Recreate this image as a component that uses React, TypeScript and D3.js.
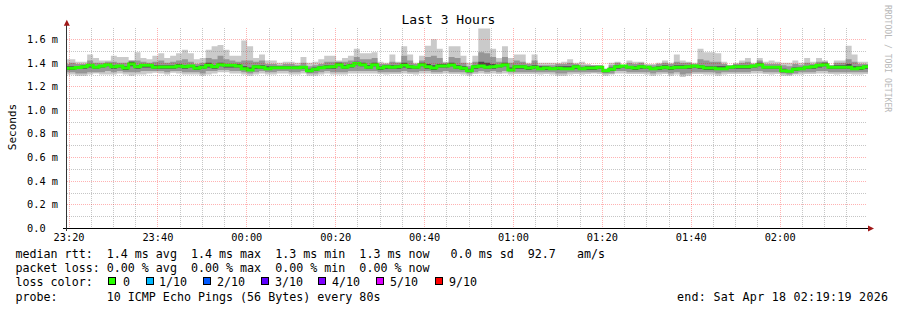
import React from 'react';
import * as d3 from 'd3';

// ---------------- data (values in milliseconds, shown with "m" suffix) ----------------
const pingMin = [
  1.30,1.30,1.29,1.29,1.30,1.31,1.30,1.30,1.30,1.31,
  1.30,1.29,1.30,1.30,1.31,1.315,1.31,1.30,1.315,1.31,
  1.30,1.30,1.30,1.29,1.30,1.31,1.32,1.32,1.31,1.31,
  1.30,1.29,1.30,1.31,1.30,1.30,1.31,1.31,1.30,1.30,
  1.31,1.29,1.29,1.30,1.31,1.30,1.30,1.30,1.31,1.31,
  1.31,1.31,1.31,1.305,1.30,1.305,1.305,1.31,1.305,1.30,
  1.31,1.31,1.305,1.305,1.31,1.305,1.305,1.30,1.29,1.305,
  1.31,1.305,1.31,1.305,1.31,1.30,1.305,1.305,1.305,1.305,
  1.30,1.305,1.30,1.29,1.29,1.30,1.305,1.30,1.305,1.31,
  1.305,1.29,1.30,1.31,1.31,1.305,1.305,1.305,1.30,1.29,
  1.30,1.305,1.29,1.30,1.28,1.29,1.305,1.305,1.30,1.30,
  1.29,1.30,1.305,1.305,1.305,1.305,1.31,1.31,1.305,1.30,
  1.305,1.29,1.29,1.30,1.30,1.305,1.305,1.31,1.31,1.305,
  1.30,1.305,1.305,1.30,1.30,1.305,
];
const ping2 = [
  1.32,1.32,1.31,1.31,1.32,1.32,1.32,1.33,1.32,1.33,
  1.32,1.32,1.32,1.33,1.33,1.33,1.33,1.32,1.33,1.33,
  1.32,1.32,1.32,1.31,1.33,1.33,1.34,1.34,1.33,1.33,
  1.32,1.31,1.32,1.33,1.32,1.32,1.33,1.33,1.32,1.32,
  1.33,1.31,1.31,1.32,1.33,1.32,1.32,1.32,1.33,1.33,
  1.33,1.33,1.33,1.32,1.32,1.32,1.32,1.33,1.32,1.32,
  1.33,1.33,1.32,1.32,1.33,1.32,1.32,1.32,1.31,1.32,
  1.33,1.32,1.33,1.32,1.33,1.32,1.32,1.32,1.32,1.32,
  1.32,1.32,1.32,1.31,1.31,1.32,1.32,1.32,1.32,1.32,
  1.32,1.31,1.31,1.33,1.33,1.32,1.32,1.32,1.32,1.31,
  1.32,1.32,1.31,1.32,1.30,1.31,1.32,1.32,1.32,1.32,
  1.31,1.32,1.32,1.32,1.32,1.32,1.33,1.33,1.32,1.32,
  1.32,1.31,1.30,1.31,1.32,1.32,1.32,1.33,1.33,1.32,
  1.32,1.32,1.32,1.32,1.32,1.32,
];
const ping4 = [
  1.34,1.34,1.35,1.35,1.36,1.35,1.36,1.37,1.35,1.36,
  1.34,1.37,1.35,1.36,1.36,1.35,1.35,1.35,1.35,1.36,
  1.35,1.36,1.34,1.35,1.36,1.35,1.37,1.36,1.36,1.36,
  1.34,1.33,1.35,1.35,1.34,1.35,1.35,1.35,1.35,1.35,
  1.35,1.32,1.33,1.35,1.35,1.35,1.37,1.35,1.36,1.38,
  1.37,1.35,1.37,1.34,1.35,1.35,1.35,1.36,1.35,1.35,
  1.37,1.35,1.34,1.36,1.36,1.37,1.35,1.34,1.32,1.35,
  1.36,1.35,1.35,1.36,1.37,1.33,1.35,1.35,1.34,1.35,
  1.34,1.34,1.34,1.34,1.34,1.34,1.35,1.34,1.34,1.34,
  1.35,1.32,1.33,1.35,1.36,1.35,1.34,1.35,1.35,1.34,
  1.34,1.35,1.34,1.35,1.35,1.35,1.36,1.35,1.34,1.34,
  1.34,1.34,1.35,1.35,1.35,1.35,1.36,1.37,1.35,1.35,
  1.35,1.32,1.32,1.33,1.34,1.35,1.35,1.36,1.37,1.35,
  1.35,1.35,1.35,1.34,1.34,1.35,
];
const median = [
  1.353,1.353,1.360,1.367,1.379,1.362,1.373,1.384,1.367,1.373,
  1.357,1.390,1.367,1.379,1.379,1.362,1.365,1.365,1.365,1.373,
  1.367,1.373,1.353,1.362,1.379,1.367,1.384,1.379,1.379,1.373,
  1.350,1.339,1.367,1.362,1.350,1.359,1.359,1.359,1.359,1.359,
  1.362,1.333,1.345,1.359,1.364,1.367,1.384,1.362,1.376,1.395,
  1.384,1.362,1.384,1.356,1.367,1.362,1.367,1.379,1.367,1.362,
  1.384,1.367,1.356,1.373,1.373,1.381,1.362,1.353,1.333,1.367,
  1.373,1.362,1.367,1.373,1.384,1.339,1.367,1.367,1.356,1.362,
  1.350,1.356,1.350,1.353,1.350,1.350,1.367,1.350,1.356,1.356,
  1.362,1.333,1.345,1.367,1.373,1.362,1.356,1.367,1.362,1.350,
  1.356,1.362,1.356,1.362,1.362,1.367,1.373,1.367,1.356,1.356,
  1.350,1.350,1.362,1.367,1.367,1.367,1.373,1.384,1.362,1.362,
  1.362,1.333,1.328,1.345,1.350,1.362,1.367,1.379,1.384,1.362,
  1.362,1.362,1.362,1.350,1.356,1.367,
];
const ping7 = [
  1.37,1.37,1.37,1.38,1.39,1.37,1.38,1.39,1.38,1.38,
  1.37,1.41,1.38,1.39,1.39,1.38,1.38,1.38,1.38,1.39,
  1.38,1.38,1.37,1.38,1.40,1.38,1.40,1.39,1.39,1.39,
  1.37,1.36,1.38,1.38,1.37,1.37,1.37,1.37,1.37,1.37,
  1.37,1.35,1.36,1.37,1.38,1.38,1.40,1.38,1.39,1.41,
  1.40,1.38,1.40,1.37,1.38,1.38,1.38,1.40,1.38,1.37,
  1.40,1.39,1.38,1.39,1.39,1.40,1.38,1.37,1.35,1.38,
  1.41,1.40,1.39,1.38,1.40,1.36,1.38,1.38,1.37,1.38,
  1.37,1.37,1.36,1.37,1.37,1.37,1.38,1.36,1.37,1.37,
  1.37,1.34,1.36,1.38,1.38,1.37,1.37,1.38,1.37,1.36,
  1.37,1.38,1.37,1.38,1.38,1.38,1.38,1.38,1.37,1.37,
  1.37,1.37,1.37,1.38,1.38,1.38,1.38,1.40,1.37,1.37,
  1.37,1.35,1.34,1.36,1.36,1.37,1.38,1.39,1.40,1.37,
  1.38,1.38,1.39,1.37,1.37,1.38,
];
const ping9 = [
  1.39,1.40,1.39,1.39,1.42,1.40,1.40,1.41,1.41,1.40,
  1.40,1.42,1.42,1.41,1.40,1.41,1.42,1.40,1.41,1.42,
  1.43,1.41,1.39,1.40,1.44,1.43,1.46,1.43,1.42,1.41,
  1.42,1.42,1.41,1.42,1.39,1.39,1.38,1.39,1.39,1.38,
  1.40,1.37,1.38,1.39,1.41,1.41,1.41,1.41,1.42,1.45,
  1.43,1.43,1.44,1.39,1.39,1.41,1.40,1.46,1.42,1.39,
  1.42,1.45,1.46,1.44,1.40,1.45,1.44,1.40,1.37,1.41,
  1.49,1.48,1.45,1.41,1.45,1.40,1.42,1.41,1.39,1.42,
  1.38,1.38,1.38,1.39,1.39,1.40,1.39,1.38,1.38,1.38,
  1.38,1.35,1.38,1.40,1.38,1.40,1.39,1.40,1.38,1.38,
  1.39,1.40,1.39,1.41,1.40,1.40,1.39,1.43,1.42,1.41,
  1.41,1.39,1.38,1.39,1.40,1.41,1.39,1.42,1.39,1.39,
  1.39,1.38,1.37,1.39,1.38,1.40,1.39,1.41,1.41,1.38,
  1.40,1.40,1.43,1.41,1.39,1.39,
];
const pingMax = [
  1.43,1.43,1.41,1.41,1.47,1.44,1.42,1.42,1.46,1.45,
  1.45,1.42,1.49,1.44,1.43,1.46,1.48,1.44,1.46,1.48,
  1.51,1.48,1.43,1.44,1.51,1.54,1.55,1.51,1.46,1.46,
  1.59,1.54,1.44,1.47,1.42,1.42,1.40,1.41,1.41,1.40,
  1.45,1.40,1.41,1.43,1.46,1.46,1.42,1.44,1.46,1.52,
  1.48,1.48,1.49,1.41,1.40,1.47,1.41,1.54,1.47,1.40,
  1.46,1.545,1.60,1.52,1.41,1.54,1.54,1.46,1.40,1.46,
  1.69,1.69,1.52,1.44,1.54,1.44,1.47,1.47,1.40,1.47,
  1.40,1.40,1.40,1.40,1.41,1.43,1.40,1.41,1.39,1.38,
  1.38,1.35,1.40,1.41,1.38,1.42,1.41,1.41,1.39,1.39,
  1.40,1.42,1.40,1.47,1.42,1.41,1.40,1.52,1.49,1.49,
  1.48,1.41,1.38,1.40,1.42,1.44,1.40,1.44,1.41,1.42,
  1.41,1.40,1.40,1.42,1.40,1.44,1.41,1.44,1.42,1.38,
  1.42,1.42,1.545,1.47,1.41,1.41,
];

const yTickValues = [0, 0.2, 0.4, 0.6, 0.8, 1.0, 1.2, 1.4, 1.6];
const yTickLabels = ['0.0', '0.2 m', '0.4 m', '0.6 m', '0.8 m', '1.0 m', '1.2 m', '1.4 m', '1.6 m'];

const lossLabels = ['0', '1/10', '2/10', '3/10', '4/10', '5/10', '9/10'];
const lossColors = ['#26ff00', '#00b8ff', '#0059ff', '#5e00ff', '#7e00ff', '#dd00ff', '#ff0000'];

const titleText = 'Last 3 Hours';
const legendRtt = 'median rtt:  1.4 ms avg  1.4 ms max  1.3 ms min  1.3 ms now   0.0 ms sd  92.7   am/s';
const legendLoss = 'packet loss: 0.00 % avg  0.00 % max  0.00 % min  0.00 % now';
const legendProbe = 'probe:       10 ICMP Echo Pings (56 Bytes) every 80s';
const legendEnd = 'end: Sat Apr 18 02:19:19 2026';

// ---------------- layout ----------------
const W = 897;
const H = 310;
const PL = 66, PR = 866, PT = 28, PB = 228;
const MONO = "'DejaVu Sans Mono', monospace";

const END = new Date(2026, 3, 18, 2, 19, 19);
const START = new Date(END.getTime() - 3 * 3600 * 1000);
const STEP_S = 80;
const FIRST_OFFSET_S = -34;

type Pt = { t: Date; lo: number; hi: number };

export default function App() {
  const x = d3.scaleTime().domain([START, END]).range([PL, PR]);
  const y = d3.scaleLinear().domain([0, 1.695]).range([PB, PT]);

  const n = median.length;
  const times = d3.range(n + 1).map(
    (j) => new Date(START.getTime() + (FIRST_OFFSET_S + STEP_S * j) * 1000)
  );
  const bandPts = (lo: number[], hi: number[]): Pt[] =>
    times.map((t, j) => ({ t, lo: lo[Math.min(j, n - 1)], hi: hi[Math.min(j, n - 1)] }));

  const area = d3
    .area<Pt>()
    .x((d) => x(d.t))
    .y0((d) => y(d.lo))
    .y1((d) => y(d.hi))
    .curve(d3.curveStepAfter);

  const medPts = times.map((t, j) => ({ t, v: median[Math.min(j, n - 1)] }));
  const line = d3
    .line<{ t: Date; v: number }>()
    .x((d) => x(d.t))
    .y((d) => y(d.v))
    .curve(d3.curveStepAfter);

  const bands = [
    { lo: pingMin, hi: pingMax, color: '#cacaca' },
    { lo: ping2, hi: ping9, color: '#969696' },
    { lo: ping4, hi: ping7, color: '#4a4a4a' },
  ];

  // grid
  const allMinor = d3.timeMinute.every(5)!.range(START, END);
  const minsOfDay = (d: Date) => d.getHours() * 60 + d.getMinutes();
  const majorTimes = allMinor.filter((d) => minsOfDay(d) % 20 === 0);
  const minorTimes = allMinor.filter((d) => minsOfDay(d) % 20 !== 0);
  const minorVals = d3.range(1, 17).filter((k) => k % 2 === 1).map((k) => k / 10);
  const fmt = d3.timeFormat('%H:%M');

  const crispX = (v: number) => Math.floor(v) + 0.5;
  const crispY = (v: number) => Math.round(v) + 0.5;

  const boxX = [108, 146, 203, 261, 318, 376, 435];
  const labelX = [123, 159, 217, 275, 332, 390, 449];

  return (
    <svg
      width={W}
      height={H}
      style={{ position: 'absolute', left: 0, top: 0, display: 'block', background: '#ffffff' }}
      xmlns="http://www.w3.org/2000/svg"
    >
      <rect x={0} y={0} width={W} height={H} fill="#ffffff" />
      <defs>
        <clipPath id="plotClip">
          <rect x={PL + 1} y={PT} width={PR - PL + 1} height={PB - PT} />
        </clipPath>
      </defs>

      {/* smoke */}
      <g clipPath="url(#plotClip)">
        {bands.map((b, i) => (
          <path key={i} d={area(bandPts(b.lo, b.hi)) || ''} fill={b.color} />
        ))}
        <path d={line(medPts) || ''} fill="none" stroke="#26ff00" strokeWidth={3} />
      </g>

      {/* grid */}
      <g shapeRendering="crispEdges">
        {minorTimes.map((t, i) => (
          <line key={'vm' + i} x1={crispX(x(t))} x2={crispX(x(t))} y1={PT} y2={PB}
            stroke="rgba(128,128,128,0.45)" strokeDasharray="1 1" />
        ))}
        {minorVals.map((v, i) => (
          <line key={'hm' + i} x1={PL + 1} x2={PR + 1} y1={crispY(y(v))} y2={crispY(y(v))}
            stroke="rgba(128,128,128,0.45)" strokeDasharray="1 1" />
        ))}
        {majorTimes.map((t, i) => (
          <line key={'vM' + i} x1={crispX(x(t))} x2={crispX(x(t))} y1={PT} y2={PB}
            stroke="rgba(255,0,0,0.3)" strokeDasharray="1 1" />
        ))}
        {yTickValues.slice(1).map((v, i) => (
          <line key={'hM' + i} x1={PL + 1} x2={PR + 1} y1={crispY(y(v))} y2={crispY(y(v))}
            stroke="rgba(255,0,0,0.3)" strokeDasharray="1 1" />
        ))}
      </g>

      {/* axes */}
      <g shapeRendering="crispEdges">
        <line x1={63} x2={869} y1={228.5} y2={228.5} stroke="#000" />
        <line x1={66.5} x2={66.5} y1={231} y2={25} stroke="#333" />
      </g>
      <polygon points="63.8,25.8 69.8,25.8 66.8,19.8" fill="#a01818" />
      <polygon points="868,225.5 868,231.5 874,228.5" fill="#a01818" />

      {/* y labels */}
      {yTickValues.map((v, i) => (
        <text key={'yl' + i} x={27} y={y(v) + 3.7} fontFamily={MONO} fontSize={10.3} fill="#000"
          style={{ whiteSpace: 'pre' }}>
          {yTickLabels[i]}
        </text>
      ))}

      {/* x labels */}
      {majorTimes.map((t, i) => (
        <text key={'xl' + i} x={x(t)} y={241} textAnchor="middle" fontFamily={MONO} fontSize={10.3} fill="#000">
          {fmt(t)}
        </text>
      ))}

      {/* title */}
      <text x={448.5} y={24} textAnchor="middle" fontFamily={MONO} fontSize={13} fill="#000">
        {titleText}
      </text>

      {/* y axis title */}
      <text transform="translate(15.5,127) rotate(-90)" textAnchor="middle" fontFamily={MONO}
        fontSize={11} fill="#000">
        Seconds
      </text>

      {/* watermark */}
      <text transform="translate(884.5,5) rotate(90)" fontFamily={MONO} fontSize={8.1} fill="#b8b8b8"
        style={{ whiteSpace: 'pre' }}>
        RRDTOOL / TOBI OETIKER
      </text>

      {/* legend */}
      <g fontFamily={MONO} fontSize={11.66} fill="#000" style={{ whiteSpace: 'pre' }}>
        <text x={15.5} y={258} xmlSpace="preserve">{legendRtt}</text>
        <text x={15.5} y={272} xmlSpace="preserve">{legendLoss}</text>
        <text x={15.5} y={286} xmlSpace="preserve">loss color:</text>
        {lossLabels.map((l, i) => (
          <g key={'lc' + i}>
            <rect x={boxX[i] + 0.5} y={277.5} width={7} height={7} fill={lossColors[i]} stroke="#000" />
            <text x={labelX[i]} y={286} xmlSpace="preserve">{l}</text>
          </g>
        ))}
        <text x={15.5} y={300.5} xmlSpace="preserve">{legendProbe}</text>
        <text x={677} y={300.5} textLength={211} lengthAdjust="spacing" xmlSpace="preserve">{legendEnd}</text>
      </g>
    </svg>
  );
}
